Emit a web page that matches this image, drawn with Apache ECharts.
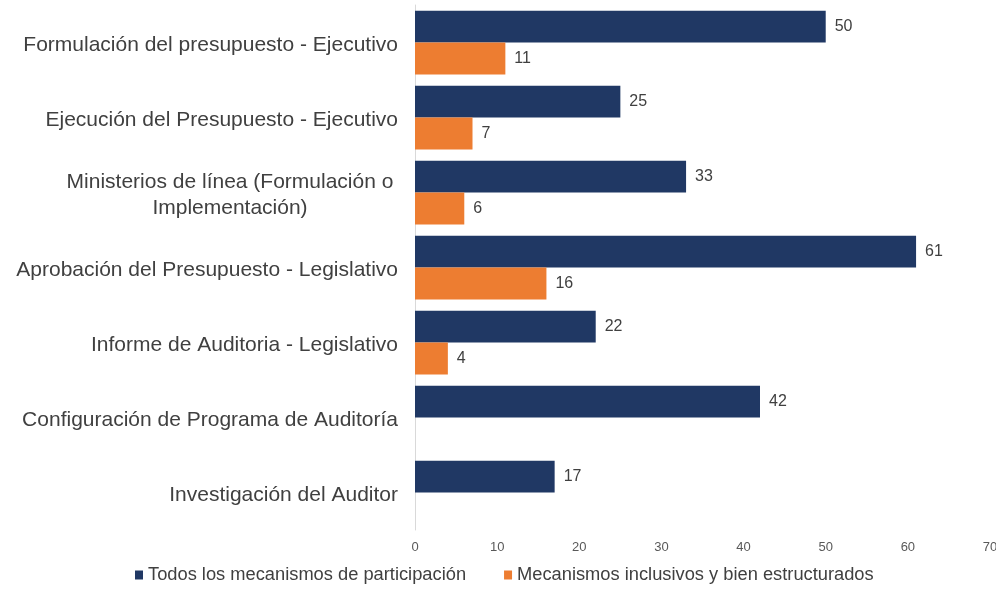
<!DOCTYPE html>
<html>
<head>
<meta charset="utf-8">
<script src="https://cdn.jsdelivr.net/npm/echarts@6/dist/echarts.min.js"></script>
<style>html,body{margin:0;padding:0;background:#fff}#c{width:996px;height:591px}</style>
</head>
<body>
<div id="c"></div>
<script>
const categories = [
  'Formulación del presupuesto - Ejecutivo',
  'Ejecución del Presupuesto - Ejecutivo',
  'Ministerios de línea (Formulación o\nImplementación)',
  'Aprobación del Presupuesto - Legislativo',
  'Informe de Auditoria - Legislativo',
  'Configuración de Programa de Auditoría',
  'Investigación del Auditor'
];
const seriesNames = ['Todos los mecanismos de participación', 'Mecanismos inclusivos y bien estructurados'];
const todos = [50, 25, 33, 61, 22, 42, 17];
const inclusivos = [11, 7, 6, 16, 4, null, null];
const xTicks = { min: 0, max: 70, interval: 10 };

const chart = echarts.init(document.getElementById('c'));
const FF = '"Liberation Sans", Arial, sans-serif';
const lbl = { show: true, position: 'right', distance: 9, color: '#404040', fontSize: 16, fontFamily: FF };
chart.setOption({
  animation: false,
  textStyle: { fontFamily: FF },
  grid: { left: 415, right: 6, top: 5, bottom: 61, containLabel: false, outerBoundsMode: 'none' },
  legend: {
    bottom: 2, left: 130,
    icon: 'rect', itemWidth: 8, itemHeight: 9, itemGap: 38,
    textStyle: { fontSize: 18.3, color: '#404040', fontFamily: FF },
    data: seriesNames
  },
  xAxis: {
    type: 'value', min: xTicks.min, max: xTicks.max, interval: xTicks.interval,
    axisLine: { show: false }, axisTick: { show: false }, splitLine: { show: false },
    axisLabel: { color: '#595959', fontSize: 13, margin: 11, fontFamily: FF }
  },
  yAxis: {
    type: 'category', inverse: true, data: categories,
    axisLine: { show: true, lineStyle: { color: '#d9d9d9', width: 1 } },
    axisTick: { show: false },
    axisLabel: {
      color: '#404040', fontSize: 21, margin: 17, lineHeight: 26, fontFamily: FF,
      padding: [5, 0, 0, 0],
      formatter: function (v) {
        if (v.indexOf('\n') >= 0) {
          const p = v.split('\n');
          return '{c|' + p[0] + '}\n{c|' + p[1] + '}';
        }
        return v;
      },
      rich: { c: { width: 336, align: 'center', fontSize: 21, color: '#404040', lineHeight: 26, fontFamily: FF } }
    }
  },
  series: [
    { name: seriesNames[0], type: 'bar', data: todos, itemStyle: { color: '#203864' }, barGap: '0%', barCategoryGap: '15%', label: lbl },
    { name: seriesNames[1], type: 'bar', data: inclusivos, itemStyle: { color: '#ED7D31' }, barGap: '0%', barCategoryGap: '15%', label: lbl }
  ]
});
</script>
</body>
</html>
